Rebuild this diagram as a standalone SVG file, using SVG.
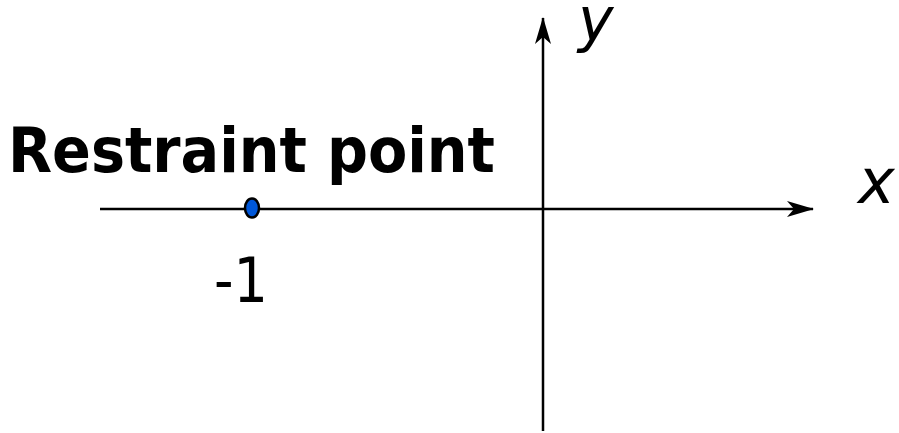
<svg xmlns="http://www.w3.org/2000/svg" width="899" height="433" viewBox="0 0 899 433">
<style>
.lbl{font-family:"DejaVu Sans","Liberation Sans",sans-serif;fill:#000}
.ax{stroke:#000;stroke-width:2.5;fill:none}
</style>
<defs>
<marker id="ah" markerWidth="28" markerHeight="18" refX="26" refY="9" orient="auto" markerUnits="userSpaceOnUse">
<path d="M0,1 L27,9 L0,17 L7,9 Z" fill="#000"/>
</marker>
</defs>
<g id="connectors">
<line class="ax" x1="100" y1="209" x2="813" y2="209" marker-end="url(#ah)"/>
<line class="ax" x1="543" y1="431" x2="543" y2="18" marker-end="url(#ah)"/>
</g>
<g id="restraint-point">
<ellipse cx="252" cy="208" rx="7" ry="9.5" fill="#0057d8" stroke="#000" stroke-width="2.5"/>
</g>
<g id="title">
<text class="lbl" x="8" y="172" font-size="62" font-weight="bold" textLength="487" lengthAdjust="spacingAndGlyphs">Restraint point</text>
</g>
<g id="label-minus1">
<text class="lbl" x="268" y="302" font-size="62" text-anchor="end" textLength="54" lengthAdjust="spacingAndGlyphs">-1</text>
</g>
<g id="label-y">
<text class="lbl" x="578" y="41" font-size="60" font-style="italic">y</text>
</g>
<g id="label-x">
<text class="lbl" x="858" y="203" font-size="62" font-style="italic">x</text>
</g>
</svg>
